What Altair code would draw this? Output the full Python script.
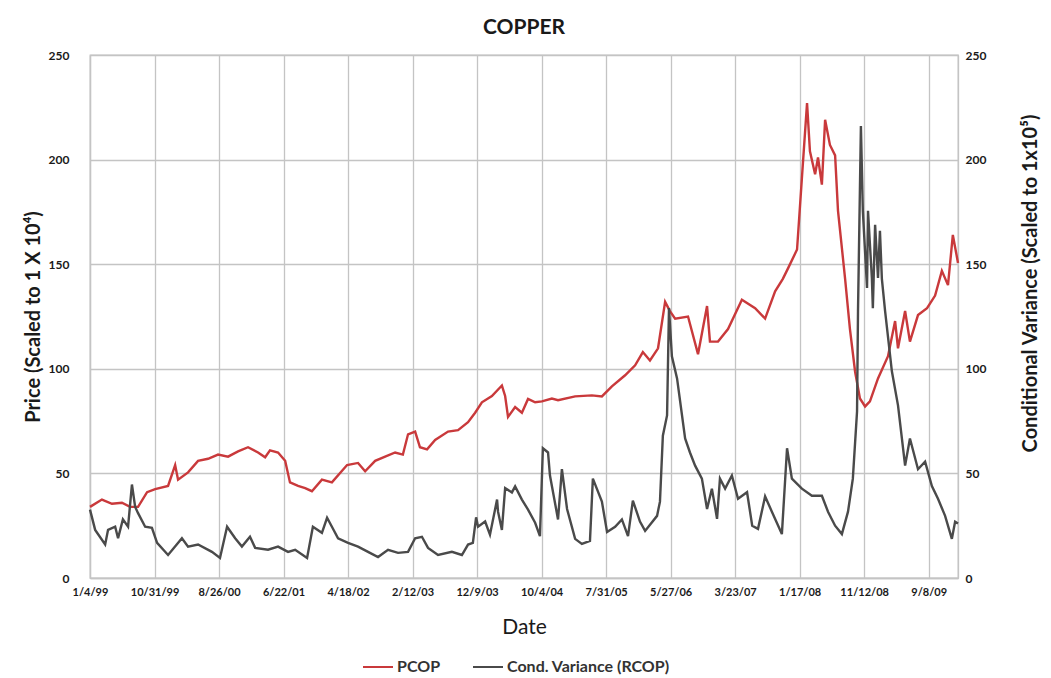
import altair as alt
import pandas as pd

# ---------------- data ----------------
# t = sample position along the date axis (200 samples between labelled ticks)
X_TICK_LABELS = ["1/4/99", "10/31/99", "8/26/00", "6/22/01", "4/18/02", "2/12/03",
                 "12/9/03", "10/4/04", "7/31/05", "5/27/06", "3/23/07", "1/17/08",
                 "11/12/08", "9/8/09"]
Y_TICKS = [0, 50, 100, 150, 200, 250]
SERIES = ["PCOP", "Cond. Variance (RCOP)"]
COLORS = ["#c9393b", "#4a4a4a"]

price_t = [0, 37, 68, 99, 124, 149, 177, 202, 242, 264, 273, 304, 335, 366, 397, 428,
           459, 490, 521, 543, 558, 583, 605, 620, 645, 667, 688, 719, 750, 797, 831,
           853, 884, 915, 946, 970, 986, 1008, 1023, 1045, 1070, 1110, 1141, 1172, 1194,
           1215, 1246, 1277, 1287, 1296, 1318, 1339, 1358, 1380, 1401, 1432, 1451, 1504,
           1556, 1587, 1618, 1659, 1690, 1714, 1736, 1761, 1783, 1798, 1814, 1854, 1885,
           1913, 1922, 1947, 1978, 2021, 2062, 2093, 2124, 2148, 2164, 2192, 2207, 2223,
           2232, 2248, 2257, 2269, 2279, 2294, 2310, 2319, 2341, 2356, 2372, 2387, 2403,
           2418, 2443, 2474, 2496, 2505, 2527, 2542, 2567, 2595, 2620, 2641, 2660, 2675,
           2691]
price_v = [34, 37.5, 35.5, 36, 34, 34, 41, 42.5, 44, 54, 47, 50.5, 56, 57, 59, 58,
           60.5, 62.5, 60, 57.7, 61, 60, 56, 45.7, 44, 43, 41.5, 47, 45.7, 54, 55,
           51, 56, 58, 60, 59, 68.7, 70, 62.5, 61.5, 66, 70, 70.7, 74.5, 79,
           84, 87, 92, 87, 77, 81.7, 79, 85.6, 84, 84.4, 85.8, 85, 86.8,
           87.3, 86.8, 91.6, 96.9, 101.7, 108, 104, 109.8, 132, 127.6, 124, 125, 107,
           130, 113, 113, 119, 133, 129, 124, 137, 143, 148, 157, 191, 227,
           204, 193, 201, 188, 219, 207, 202, 175.5, 143, 119, 98.6, 85.8, 82,
           84.4, 95.4, 106, 122.8, 109.8, 127.6, 113, 125.7, 129, 135, 146.8, 140, 164,
           150.6]

var_t = [0, 16, 47, 56, 78, 87, 102, 118, 130, 140, 149, 171, 192, 208, 242, 285, 304,
         335, 378, 403, 425, 450, 471, 496, 512, 552, 583, 614, 636, 673, 691, 719, 735,
         750, 769, 800, 831, 862, 893, 924, 955, 986, 1008, 1029, 1048, 1079, 1122, 1153,
         1172, 1187, 1197, 1203, 1225, 1240, 1262, 1265, 1277, 1287, 1308, 1318, 1339,
         1358, 1380, 1395, 1404, 1420, 1426, 1451, 1463, 1479, 1504, 1525, 1550, 1559,
         1587, 1603, 1628, 1649, 1668, 1683, 1705, 1721, 1758, 1767, 1776, 1789, 1795,
         1804, 1820, 1845, 1860, 1876, 1897, 1913, 1928, 1944, 1953, 1969, 1990, 2009,
         2037, 2053, 2071, 2093, 2114, 2145, 2161, 2176, 2207, 2238, 2269, 2288, 2310,
         2331, 2350, 2365, 2378, 2381, 2390, 2396, 2409, 2412, 2424, 2427, 2434, 2443,
         2449, 2455, 2465, 2486, 2505, 2527, 2542, 2567, 2589, 2610, 2629, 2651, 2672,
         2682, 2691]
var_v = [32.7, 23, 16, 23, 24.5, 19, 28, 24.5, 44.7, 34, 31, 24.5, 24, 16.8, 11, 19, 15,
         16, 12.5, 9.6, 24.5, 19, 15, 19.7, 14.4, 13.5, 15, 12.5, 13.5, 9.6, 24.5, 21.6, 28.8,
         24.5, 19, 16.8, 15, 12.5, 10, 13.5, 12, 12.5, 19, 19.7, 14.4, 11, 12.5, 11,
         16, 16.8, 29, 24.5, 27, 20.7, 37.5, 31.7, 23, 43, 40.9, 43.8, 37.5,
         32.7, 26.4, 20, 62, 60, 49, 28, 52, 33, 18.7, 16.3, 17.7, 47.5,
         36.5, 22, 24.5, 28, 20, 37, 27, 22.5, 29.7, 36.5, 68, 77.7, 129,
         106, 95.4, 66.7, 60, 53.7, 47.5, 33, 42.7, 28.3, 47.5, 42.7, 49, 37.9,
         41, 25, 23.5, 39, 31.7, 21, 62, 47.5, 42.7, 39.3, 39.3, 31.7, 25,
         21, 31.7, 47.5, 79.6, 127.6, 216, 175.5, 138.6, 175.5, 143.4, 129, 168.8, 143.4,
         166, 143, 127.6, 98.8, 82.5, 53.7, 66.7, 52, 55.6, 44, 37.9, 29.7, 18.7,
         26.9, 26]

T_MAX = 2691
X_TICKS = [i * 200 for i in range(len(X_TICK_LABELS))]

price_df = pd.DataFrame({"t": price_t, "value": price_v, "series": SERIES[0]})
var_df = pd.DataFrame({"t": var_t, "value": var_v, "series": SERIES[1]})

FONT = "Lato"
GRID = "#c4c4c4"
TEXT = "#1a1a1a"

label_array = "[" + ",".join("'" + s + "'" for s in X_TICK_LABELS) + "]"

x_enc = alt.X(
    "t:Q",
    scale=alt.Scale(domain=[0, T_MAX], nice=False, zero=False),
    axis=alt.Axis(
        values=X_TICKS,
        labelExpr=label_array + "[round(datum.value / 200)]",
        title="Date",
        titleFont=FONT, titleFontSize=21, titleFontWeight="normal", titleColor=TEXT,
        titleY=49, titleBaseline="middle",
        labelFont=FONT, labelFontSize=11, labelFontWeight="bold", labelColor=TEXT,
        labelPadding=8, labelOverlap=False, labelFlush=False,
        ticks=False, grid=True, gridColor=GRID, gridWidth=1.3,
        domainColor=GRID, domainWidth=1.3,
    ),
)

color_enc = alt.Color(
    "series:N",
    scale=alt.Scale(domain=SERIES, range=COLORS),
    legend=alt.Legend(
        title=None, orient="none", direction="horizontal",
        legendX=272, legendY=596, padding=0,
        symbolType="stroke", symbolSize=900, symbolStrokeWidth=2,
        labelFont=FONT, labelFontSize=16, labelFontWeight="bold", labelColor="#333333",
        labelOffset=3, columnPadding=28, labelLimit=0,
    ),
)

left = alt.Chart(price_df).mark_line(strokeWidth=2.4).encode(
    x=x_enc,
    y=alt.Y(
        "value:Q",
        scale=alt.Scale(domain=[0, 250], nice=False),
        axis=alt.Axis(
            orient="left", values=Y_TICKS,
            title="Price (Scaled to 1 X 10⁴)",
            titleFont=FONT, titleFontSize=20, titleFontWeight="bold", titleColor=TEXT,
            titleAngle=270, titleX=-57, titleY=261.5, titleBaseline="middle",
            labelFont=FONT, labelFontSize=12, labelFontWeight="bold", labelColor=TEXT,
            labelPadding=21, ticks=False, grid=True, gridColor=GRID, gridWidth=1.3,
            domainColor=GRID, domainWidth=1.3,
        ),
    ),
    color=color_enc,
    order="t:Q",
)

right = alt.Chart(var_df).mark_line(strokeWidth=2.4).encode(
    x=x_enc,
    y=alt.Y(
        "value:Q",
        scale=alt.Scale(domain=[0, 250], nice=False),
        axis=alt.Axis(
            orient="right", values=Y_TICKS,
            title="Conditional Variance (Scaled to 1x10⁵)",
            titleFont=FONT, titleFontSize=20, titleFontWeight="bold", titleColor=TEXT,
            titleAngle=270, titleX=72, titleY=228, titleBaseline="middle",
            labelFont=FONT, labelFontSize=12, labelFontWeight="bold", labelColor=TEXT,
            labelPadding=7, ticks=False, grid=False,
            domainColor=GRID, domainWidth=1.3,
        ),
    ),
    color=color_enc,
    order="t:Q",
)

chart = (
    alt.layer(left, right)
    .resolve_scale(y="independent")
    .properties(
        width=868,
        height=523,
        autosize=alt.AutoSizeParams(type="none"),
        padding={"left": 90, "top": 55, "right": 93, "bottom": 100},
        title=alt.TitleParams(
            "COPPER", font=FONT, fontSize=21, fontWeight="bold", color=TEXT,
            anchor="middle", offset=11,
        ),
        background="white",
    )
    .configure_view(stroke=GRID, strokeWidth=1.3)
)

chart.save("out.html", embed_options={"renderer": "svg", "actions": False})
